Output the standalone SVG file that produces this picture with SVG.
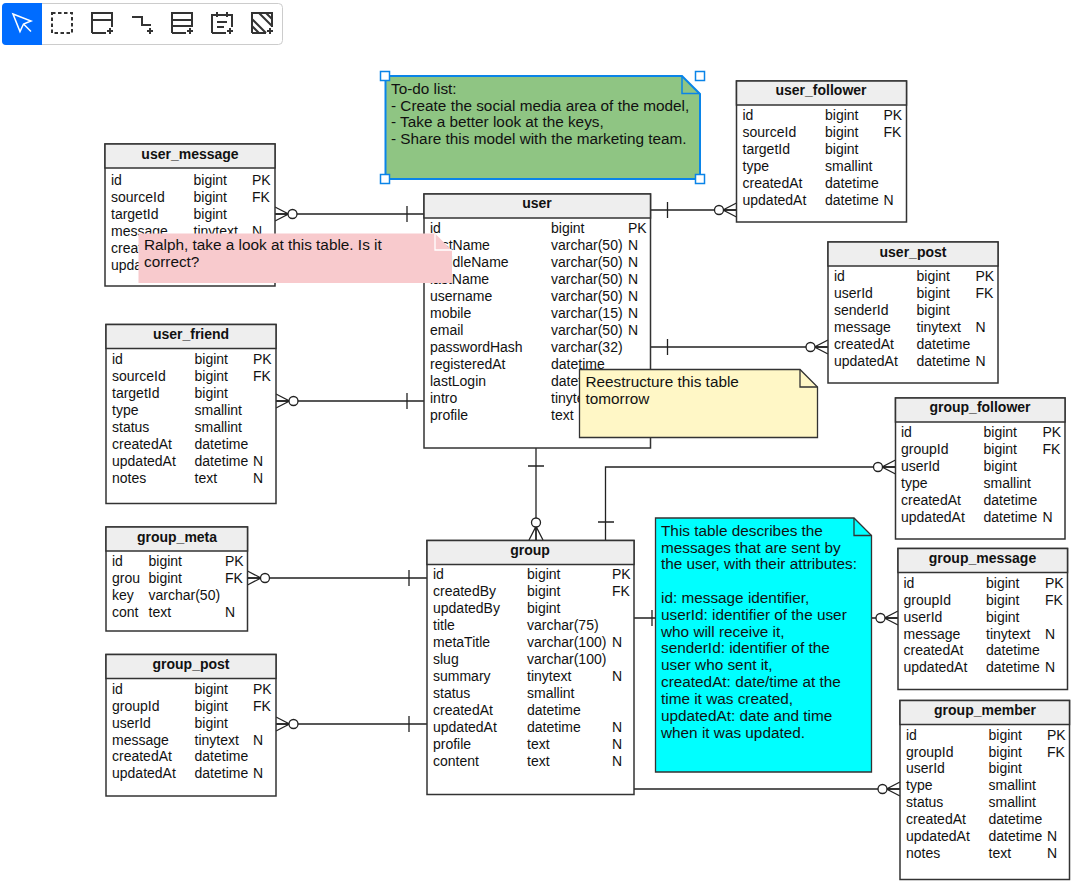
<svg xmlns="http://www.w3.org/2000/svg" width="1076" height="884" viewBox="0 0 1076 884">
<style>
text{font-family:"Liberation Sans",Arial,sans-serif;font-size:14px;fill:#111}
.title{font-weight:bold;text-anchor:middle}
.ntxt{font-size:15.33px}
.box{fill:#fff;stroke:#333;stroke-width:1.5}
.head{fill:#eee;stroke:#333;stroke-width:1.5}
.conn path{fill:none;stroke:#222;stroke-width:1.3}
.icon{fill:none;stroke:#333;stroke-width:2}
.note{stroke:#333;stroke-width:1.3}
.handle{fill:#fff;stroke:#0a84e8;stroke-width:1.5}
</style>
<defs>
<!-- crow's foot with circle, pointing right; origin on the table edge -->
<g id="many" fill="none" stroke="#222" stroke-width="1.3"><path d="M0 -7L13.500 0L0 7M0 0H13.500"/><circle cx="17.500" cy="0" r="4.500" fill="#fff"/></g>
<path id="plusMark" d="M-3 0H3M0 -3V3" fill="none" stroke="#333" stroke-width="2"/>
</defs>

<g id="toolbar">
<rect x="2.500" y="3.500" width="280" height="41" rx="4" fill="#fff" stroke="#ccc" stroke-width="1"/>
<path d="M6 3H42V45H6a4 4 0 0 1 -4 -4V7a4 4 0 0 1 4 -4Z" fill="#006cff"/>
<path d="M13 14L31 21L23.500 24L20 31.500ZM23.500 24L31 31.500" fill="none" stroke="#fff" stroke-width="1.500"/>
<rect class="icon" x="52" y="13" width="20" height="20" stroke-dasharray="3.500 2.500"/>
<path class="icon" d="M92 33V13H112V27M92 20H112M92 33H106"/><use href="#plusMark" x="110" y="31"/>
<path class="icon" d="M132 17H142V25H151"/><use href="#plusMark" x="150" y="31"/>
<path class="icon" d="M172 33V13H192V27M172 20H192M172 26H192M172 33H186"/><use href="#plusMark" x="190" y="31"/>
<path class="icon" d="M212 33V15H232V27M212 33H226M217 12V17M227 12V17M217 22H227M217 27H224"/><use href="#plusMark" x="230" y="31"/>
<path class="icon" d="M252 33V13H272V27M252 33H266M252 19L266 33M252 26L259 33M259 13L272 26M266 13L272 19"/><use href="#plusMark" x="270" y="31"/>
</g>

<g id="connectors" class="conn">
<path d="M275 214H424M407 206V222"/><use href="#many" x="275" y="214"/>
<path d="M276 401H424M407 393V409"/><use href="#many" x="276" y="401"/>
<path d="M247.500 578H427M409 570V586"/><use href="#many" x="247.500" y="578"/>
<path d="M276 724H427M409 716V732"/><use href="#many" x="276" y="724"/>
<path d="M650.500 210H736.500M667.500 202V218"/><use href="#many" transform="translate(736.500 210) scale(-1 1)"/>
<path d="M650.500 347H828M667.500 339V355"/><use href="#many" transform="translate(828 347) scale(-1 1)"/>
<path d="M536 448V540M528 466H544"/><use href="#many" transform="translate(536 540) rotate(-90)"/>
<path d="M605.500 540V467H895M598 522H614"/><use href="#many" transform="translate(895.500 467) scale(-1 1)"/>
<path d="M634 618H898M652 610V626"/><use href="#many" transform="translate(898 618) scale(-1 1)"/>
<path d="M634 789H900"/><use href="#many" transform="translate(900 789) scale(-1 1)"/>
</g>

<g id="user_message">
<rect class="box" x="105" y="144" width="170" height="142"/><rect class="head" x="105" y="144" width="170" height="24"/>
<text class="title" x="190" y="159">user_message</text>
<text x="111" y="185">id<tspan x="111" dy="17">sourceId</tspan><tspan x="111" dy="17">targetId</tspan><tspan x="111" dy="17">message</tspan><tspan x="111" dy="17">createdAt</tspan><tspan x="111" dy="17">updatedAt</tspan></text>
<text x="193.500" y="185">bigint<tspan x="193.500" dy="17">bigint</tspan><tspan x="193.500" dy="17">bigint</tspan><tspan x="193.500" dy="17">tinytext</tspan></text>
<text x="252" y="185">PK<tspan x="252" dy="17">FK</tspan><tspan x="252" dy="34">N</tspan></text>
</g>

<g id="user_friend">
<rect class="box" x="106" y="324.500" width="170" height="179"/><rect class="head" x="106" y="324.500" width="170" height="24"/>
<text class="title" x="191" y="339">user_friend</text>
<text x="112" y="364">id<tspan x="112" dy="17">sourceId</tspan><tspan x="112" dy="17">targetId</tspan><tspan x="112" dy="17">type</tspan><tspan x="112" dy="17">status</tspan><tspan x="112" dy="17">createdAt</tspan><tspan x="112" dy="17">updatedAt</tspan><tspan x="112" dy="17">notes</tspan></text>
<text x="194.500" y="364">bigint<tspan x="194.500" dy="17">bigint</tspan><tspan x="194.500" dy="17">bigint</tspan><tspan x="194.500" dy="17">smallint</tspan><tspan x="194.500" dy="17">smallint</tspan><tspan x="194.500" dy="17">datetime</tspan><tspan x="194.500" dy="17">datetime</tspan><tspan x="194.500" dy="17">text</tspan></text>
<text x="253" y="364">PK<tspan x="253" dy="17">FK</tspan><tspan x="253" dy="85">N</tspan><tspan x="253" dy="17">N</tspan></text>
</g>

<g id="group_meta">
<rect class="box" x="106" y="527" width="141.500" height="104"/><rect class="head" x="106" y="527" width="141.500" height="24"/>
<text class="title" x="177" y="542">group_meta</text>
<text x="112" y="566">id<tspan x="112" dy="17">grou</tspan><tspan x="112" dy="17">key</tspan><tspan x="112" dy="17">cont</tspan></text>
<text x="148.500" y="566">bigint<tspan x="148.500" dy="17">bigint</tspan><tspan x="148.500" dy="17">varchar(50)</tspan><tspan x="148.500" dy="17">text</tspan></text>
<text x="225" y="566">PK<tspan x="225" dy="17">FK</tspan><tspan x="225" dy="34">N</tspan></text>
</g>

<g id="group_post">
<rect class="box" x="106" y="654.500" width="170" height="141.500"/><rect class="head" x="106" y="654.500" width="170" height="24"/>
<text class="title" x="191" y="669">group_post</text>
<text x="112" y="694">id<tspan x="112" dy="17">groupId</tspan><tspan x="112" dy="17">userId</tspan><tspan x="112" dy="17">message</tspan><tspan x="112" dy="16">createdAt</tspan><tspan x="112" dy="17">updatedAt</tspan></text>
<text x="194.500" y="694">bigint<tspan x="194.500" dy="17">bigint</tspan><tspan x="194.500" dy="17">bigint</tspan><tspan x="194.500" dy="17">tinytext</tspan><tspan x="194.500" dy="16">datetime</tspan><tspan x="194.500" dy="17">datetime</tspan></text>
<text x="253" y="694">PK<tspan x="253" dy="17">FK</tspan><tspan x="253" dy="34">N</tspan><tspan x="253" dy="33">N</tspan></text>
</g>

<g id="user">
<rect class="box" x="424" y="194" width="226.500" height="254"/><rect class="head" x="424" y="194" width="226.500" height="24"/>
<text class="title" x="537" y="208">user</text>
<text x="430" y="233">id<tspan x="430" dy="17">firstName</tspan><tspan x="430" dy="17">middleName</tspan><tspan x="430" dy="17">lastName</tspan><tspan x="430" dy="17">username</tspan><tspan x="430" dy="17">mobile</tspan><tspan x="430" dy="17">email</tspan><tspan x="430" dy="17">passwordHash</tspan><tspan x="430" dy="17">registeredAt</tspan><tspan x="430" dy="17">lastLogin</tspan><tspan x="430" dy="17">intro</tspan><tspan x="430" dy="17">profile</tspan></text>
<text x="551" y="233">bigint<tspan x="551" dy="17">varchar(50)</tspan><tspan x="551" dy="17">varchar(50)</tspan><tspan x="551" dy="17">varchar(50)</tspan><tspan x="551" dy="17">varchar(50)</tspan><tspan x="551" dy="17">varchar(15)</tspan><tspan x="551" dy="17">varchar(50)</tspan><tspan x="551" dy="17">varchar(32)</tspan><tspan x="551" dy="17">datetime</tspan><tspan x="551" dy="17">datetime</tspan><tspan x="551" dy="17">tinytext</tspan><tspan x="551" dy="17">text</tspan></text>
<text x="628" y="233">PK<tspan x="628" dy="17">N</tspan><tspan x="628" dy="17">N</tspan><tspan x="628" dy="17">N</tspan><tspan x="628" dy="17">N</tspan><tspan x="628" dy="17">N</tspan><tspan x="628" dy="17">N</tspan></text>
</g>

<g id="group">
<rect class="box" x="427" y="540.500" width="207" height="254"/><rect class="head" x="427" y="540.500" width="207" height="24"/>
<text class="title" x="530" y="555">group</text>
<text x="433" y="579">id<tspan x="433" dy="17">createdBy</tspan><tspan x="433" dy="17">updatedBy</tspan><tspan x="433" dy="17">title</tspan><tspan x="433" dy="17">metaTitle</tspan><tspan x="433" dy="17">slug</tspan><tspan x="433" dy="17">summary</tspan><tspan x="433" dy="17">status</tspan><tspan x="433" dy="17">createdAt</tspan><tspan x="433" dy="17">updatedAt</tspan><tspan x="433" dy="17">profile</tspan><tspan x="433" dy="17">content</tspan></text>
<text x="527" y="579">bigint<tspan x="527" dy="17">bigint</tspan><tspan x="527" dy="17">bigint</tspan><tspan x="527" dy="17">varchar(75)</tspan><tspan x="527" dy="17">varchar(100)</tspan><tspan x="527" dy="17">varchar(100)</tspan><tspan x="527" dy="17">tinytext</tspan><tspan x="527" dy="17">smallint</tspan><tspan x="527" dy="17">datetime</tspan><tspan x="527" dy="17">datetime</tspan><tspan x="527" dy="17">text</tspan><tspan x="527" dy="17">text</tspan></text>
<text x="612" y="579">PK<tspan x="612" dy="17">FK</tspan><tspan x="612" dy="51">N</tspan><tspan x="612" dy="34">N</tspan><tspan x="612" dy="51">N</tspan><tspan x="612" dy="17">N</tspan><tspan x="612" dy="17">N</tspan></text>
</g>

<g id="user_follower">
<rect class="box" x="736.500" y="81" width="170" height="141"/><rect class="head" x="736.500" y="81" width="170" height="24"/>
<text class="title" x="821" y="95">user_follower</text>
<text x="742.500" y="120">id<tspan x="742.500" dy="17">sourceId</tspan><tspan x="742.500" dy="17">targetId</tspan><tspan x="742.500" dy="17">type</tspan><tspan x="742.500" dy="17">createdAt</tspan><tspan x="742.500" dy="17">updatedAt</tspan></text>
<text x="825" y="120">bigint<tspan x="825" dy="17">bigint</tspan><tspan x="825" dy="17">bigint</tspan><tspan x="825" dy="17">smallint</tspan><tspan x="825" dy="17">datetime</tspan><tspan x="825" dy="17">datetime</tspan></text>
<text x="883.500" y="120">PK<tspan x="883.500" dy="17">FK</tspan><tspan x="883.500" dy="68">N</tspan></text>
</g>

<g id="user_post">
<rect class="box" x="828" y="242" width="170" height="141"/><rect class="head" x="828" y="242" width="170" height="24"/>
<text class="title" x="913" y="257">user_post</text>
<text x="834" y="281">id<tspan x="834" dy="17">userId</tspan><tspan x="834" dy="17">senderId</tspan><tspan x="834" dy="17">message</tspan><tspan x="834" dy="17">createdAt</tspan><tspan x="834" dy="17">updatedAt</tspan></text>
<text x="916.500" y="281">bigint<tspan x="916.500" dy="17">bigint</tspan><tspan x="916.500" dy="17">bigint</tspan><tspan x="916.500" dy="17">tinytext</tspan><tspan x="916.500" dy="17">datetime</tspan><tspan x="916.500" dy="17">datetime</tspan></text>
<text x="975.500" y="281">PK<tspan x="975.500" dy="17">FK</tspan><tspan x="975.500" dy="34">N</tspan><tspan x="975.500" dy="34">N</tspan></text>
</g>

<g id="group_follower">
<rect class="box" x="895.500" y="398" width="169.500" height="141"/><rect class="head" x="895.500" y="398" width="169.500" height="24"/>
<text class="title" x="980" y="412">group_follower</text>
<text x="901" y="437">id<tspan x="901" dy="17">groupId</tspan><tspan x="901" dy="17">userId</tspan><tspan x="901" dy="17">type</tspan><tspan x="901" dy="17">createdAt</tspan><tspan x="901" dy="17">updatedAt</tspan></text>
<text x="983.500" y="437">bigint<tspan x="983.500" dy="17">bigint</tspan><tspan x="983.500" dy="17">bigint</tspan><tspan x="983.500" dy="17">smallint</tspan><tspan x="983.500" dy="17">datetime</tspan><tspan x="983.500" dy="17">datetime</tspan></text>
<text x="1042.500" y="437">PK<tspan x="1042.500" dy="17">FK</tspan><tspan x="1042.500" dy="68">N</tspan></text>
</g>

<g id="group_message">
<rect class="box" x="898" y="548.500" width="169.500" height="141"/><rect class="head" x="898" y="548.500" width="169.500" height="24"/>
<text class="title" x="982.500" y="563">group_message</text>
<text x="903.500" y="588">id<tspan x="903.500" dy="17">groupId</tspan><tspan x="903.500" dy="17">userId</tspan><tspan x="903.500" dy="17">message</tspan><tspan x="903.500" dy="16">createdAt</tspan><tspan x="903.500" dy="17">updatedAt</tspan></text>
<text x="986" y="588">bigint<tspan x="986" dy="17">bigint</tspan><tspan x="986" dy="17">bigint</tspan><tspan x="986" dy="17">tinytext</tspan><tspan x="986" dy="16">datetime</tspan><tspan x="986" dy="17">datetime</tspan></text>
<text x="1045" y="588">PK<tspan x="1045" dy="17">FK</tspan><tspan x="1045" dy="34">N</tspan><tspan x="1045" dy="33">N</tspan></text>
</g>

<g id="group_member">
<rect class="box" x="900" y="700.500" width="169.500" height="179"/><rect class="head" x="900" y="700.500" width="169.500" height="24"/>
<text class="title" x="985" y="715">group_member</text>
<text x="906" y="740">id<tspan x="906" dy="17">groupId</tspan><tspan x="906" dy="16">userId</tspan><tspan x="906" dy="17">type</tspan><tspan x="906" dy="17">status</tspan><tspan x="906" dy="17">createdAt</tspan><tspan x="906" dy="17">updatedAt</tspan><tspan x="906" dy="17">notes</tspan></text>
<text x="988.500" y="740">bigint<tspan x="988.500" dy="17">bigint</tspan><tspan x="988.500" dy="16">bigint</tspan><tspan x="988.500" dy="17">smallint</tspan><tspan x="988.500" dy="17">smallint</tspan><tspan x="988.500" dy="17">datetime</tspan><tspan x="988.500" dy="17">datetime</tspan><tspan x="988.500" dy="17">text</tspan></text>
<text x="1047" y="740">PK<tspan x="1047" dy="17">FK</tspan><tspan x="1047" dy="84">N</tspan><tspan x="1047" dy="17">N</tspan></text>
</g>

<g id="note_todo">
<path d="M385.500 76H682L700 94V179H385.500Z" fill="#8fc583" stroke="#0a84e8" stroke-width="2"/>
<path d="M682 76V93.500H700" fill="none" stroke="#0a84e8" stroke-width="1.500"/>
<text class="ntxt" x="391" y="94">To-do list:<tspan x="391" dy="16.500">- Create the social media area of the model,</tspan><tspan x="391" dy="16.500">- Take a better look at the keys,</tspan><tspan x="391" dy="16.500">- Share this model with the marketing team.</tspan></text>
<rect class="handle" x="380.500" y="71.500" width="9" height="9"/><rect class="handle" x="695.500" y="71.500" width="9" height="9"/><rect class="handle" x="380.500" y="174.500" width="9" height="9"/><rect class="handle" x="695.500" y="174.500" width="9" height="9"/>
</g>

<g id="note_ralph">
<path d="M138.500 233.500H435L452 250.500V283H138.500Z" fill="#f8cacd"/>
<path d="M435 234V250H452" fill="none" stroke="#fff" stroke-width="1.300"/>
<text class="ntxt" x="144" y="250">Ralph, take a look at this table. Is it<tspan x="144" dy="17">correct?</tspan></text>
</g>

<g id="note_restructure">
<path class="note" d="M579.500 369.500H800L817.500 387V437.500H579.500Z" fill="#fff7c6"/>
<path class="note" d="M800 369.500V387H817.500" fill="none"/>
<text class="ntxt" x="585.500" y="387">Reestructure this table<tspan x="585.500" dy="17">tomorrow</tspan></text>
</g>

<g id="note_messages">
<path class="note" d="M655.500 518H854L871.500 535.500V772H655.500Z" fill="#00ffff"/>
<path class="note" d="M854 518V535.500H871.500" fill="none"/>
<text class="ntxt" x="661" y="536">This table describes the<tspan x="661" dy="16.500">messages that are sent by</tspan><tspan x="661" dy="16.500">the user, with their attributes:</tspan><tspan x="661" dy="33.500">id: message identifier,</tspan><tspan x="661" dy="17">userId: identifier of the user</tspan><tspan x="661" dy="17">who will receive it,</tspan><tspan x="661" dy="16.500">senderId: identifier of the</tspan><tspan x="661" dy="17">user who sent it,</tspan><tspan x="661" dy="17">createdAt: date/time at the</tspan><tspan x="661" dy="17">time it was created,</tspan><tspan x="661" dy="17">updatedAt: date and time</tspan><tspan x="661" dy="17">when it was updated.</tspan></text>
</g>
</svg>
